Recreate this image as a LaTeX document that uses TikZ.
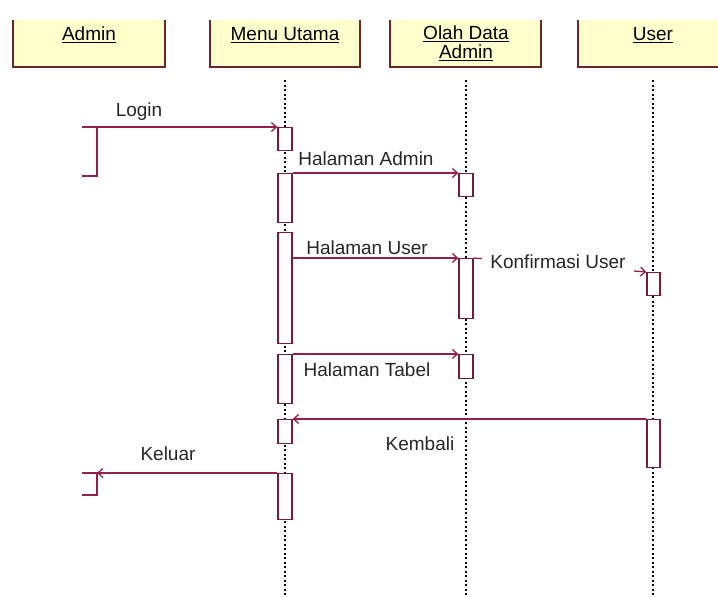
\documentclass[tikz,border=0pt]{standalone}
\usepackage{fontspec}
\setmainfont{Liberation Sans}
\usetikzlibrary{
  arrows.meta,
  calc,
  positioning}
\definecolor{msgred}{RGB}{150,30,75}
\definecolor{actred}{RGB}{115,30,55}
\definecolor{headfill}{RGB}{255,255,206}
\definecolor{headline}{RGB}{105,40,40}

\begin{document}
\begin{tikzpicture}[x=1pt,y=-1pt,
  font=\fontsize{19}{19}\selectfont,
  head/.style={text=black,align=center,inner sep=1pt},
  life/.style={black,line width=1.6pt,dash pattern=on 2pt off 2.5pt},
  act/.style={draw=actred,fill=white,line width=1.3pt,minimum width=14pt,inner sep=0pt,anchor=north},
  msg/.style={draw=msgred,line width=1.3pt,-{Straight Barb[length=5pt,width=9pt]}},
  bracket/.style={draw=msgred,line width=1.3pt},
  lbl/.style={text=black!85,inner sep=1pt}]
  \useasboundingbox (0,0) rectangle (718,597);

  % kepala objek
  \foreach \xa/\xb in {13/165,210/360,390/541,578/740}{
    \fill[headfill] (\xa,20) rectangle (\xb,67);
    \draw[headline,line width=1.3pt] (\xa,20) -- (\xa,67) -- (\xb,67) -- (\xb,20);
  }
  \node[head] (hAdmin) at (89,35) {\underline{Admin}};
  \node[head] (hMenu) at (285,35) {\underline{Menu Utama}};
  \node[head] (hOlah) at (466,43) {\underline{Olah Data}\\\underline{Admin}};
  \node[head] (hUser) at (653,35) {\underline{User}};

  % lifeline
  \foreach \x in {285,466,653}
    \draw[life] (\x,80) -- (\x,597);

  % aktivasi
  \node[act,minimum height=23pt] (ma1) at (285,127) {};
  \node[act,minimum height=49pt] (ma2) at (285,173) {};
  \node[act,minimum height=111pt] (ma3) at (285,232) {};
  \node[act,minimum height=49pt] (ma4) at (285,354) {};
  \node[act,minimum height=24pt] (ma5) at (285,419) {};
  \node[act,minimum height=46pt] (ma6) at (285,473) {};
  \node[act,minimum height=23pt] (oa1) at (466,173) {};
  \node[act,minimum height=60pt] (oa2) at (466,258) {};
  \node[act,minimum height=24pt] (oa3) at (466,354) {};
  \node[act,minimum height=23pt,minimum width=13pt] (ua1) at (653.5,272) {};
  \node[act,minimum height=48pt,minimum width=13pt] (ua2) at (653.5,419) {};

  % pesan
  \coordinate (aLogin) at (82,127);
  \draw[msg] (aLogin) -- (ma1.north west);
  \draw[bracket] (97,127) -- (97,176) -- (82,176);
  \node[lbl] (lLogin) at (139,112) {Login};

  \draw[msg] (ma2.north east) -- (oa1.north west);
  \node[lbl] (lAdmin) at (366,159) {Halaman Admin};

  \draw[msg] (ma3.east |- oa2.north) -- (oa2.north west);
  \node[lbl] (lUser) at (367,248) {Halaman User};

  \draw[msg] (oa2.north east) -- (ua1.north west);
  \node[lbl,fill=white,inner xsep=8pt,inner ysep=4pt] (lKonf) at (558,262) {Konfirmasi User};

  \draw[msg] (ma4.north east) -- (oa3.north west);
  \node[lbl] (lTabel) at (367,370) {Halaman Tabel};

  \draw[msg] (ua2.north west) -- (ma5.north east);
  \node[lbl] (lKembali) at (420,444) {Kembali};

  \coordinate (aKeluar) at (97,473);
  \draw[msg] (ma6.north west) -- (aKeluar);
  \draw[bracket] (82,473) -- (97,473) -- (97,495) -- (82,495);
  \node[lbl] (lKeluar) at (168,454) {Keluar};
\end{tikzpicture}
\end{document}
